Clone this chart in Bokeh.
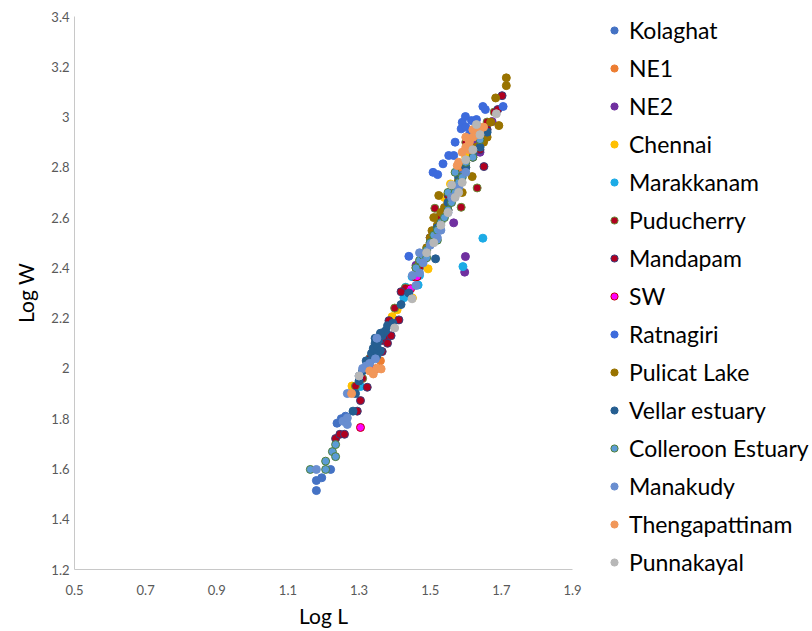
from bokeh.plotting import figure
from bokeh.layouts import row
from bokeh.models import Range1d, FixedTicker, Legend, LegendItem
from bokeh.embed import file_html
from bokeh.resources import INLINE

x_ticks = [0.5, 0.7, 0.9, 1.1, 1.3, 1.5, 1.7, 1.9]
x_tick_labels = ["0.5", "0.7", "0.9", "1.1", "1.3", "1.5", "1.7", "1.9"]
y_ticks = [1.2, 1.4, 1.6, 1.8, 2.0, 2.2, 2.4, 2.6, 2.8, 3.0, 3.2, 3.4]
y_tick_labels = ["1.2", "1.4", "1.6", "1.8", "2", "2.2", "2.4", "2.6", "2.8", "3", "3.2", "3.4"]

kolaghat_L = [1.18, 1.18, 1.195, 1.22, 1.238, 1.25, 1.262, 1.30, 1.36, 1.50, 1.58, 1.62]
kolaghat_W = [1.514, 1.554, 1.565, 1.598, 1.782, 1.80, 1.81, 1.94, 2.12, 2.52, 2.78, 2.88]

ne1_L = [1.283, 1.36, 1.58, 1.62, 1.635, 1.66]
ne1_W = [1.92, 2.03, 2.80, 2.90, 2.94, 2.97]

ne2_L = [1.566, 1.599, 1.597, 1.46, 1.50, 1.55, 1.62, 1.64, 1.674, 1.63]
ne2_W = [2.579, 2.445, 2.383, 2.41, 2.52, 2.63, 2.90, 2.86, 2.982, 2.96]

chennai_L = [1.28, 1.393, 1.407, 1.45, 1.494, 1.54, 1.557, 1.60]
chennai_W = [1.93, 2.206, 2.233, 2.28, 2.396, 2.68, 2.734, 2.84]

marakkanam_L = [1.304, 1.426, 1.431, 1.449, 1.466, 1.47, 1.52, 1.592, 1.648]
marakkanam_W = [1.928, 2.281, 2.323, 2.365, 2.332, 2.37, 2.55, 2.405, 2.518]

puducherry_L = [1.29, 1.31, 1.33, 1.36, 1.40, 1.43, 1.47, 1.513, 1.52, 1.55, 1.56, 1.587, 1.60, 1.63, 1.66, 1.68, 1.632]
puducherry_W = [1.93, 1.96, 2.04, 2.12, 2.24, 2.32, 2.40, 2.637, 2.60, 2.65, 2.70, 2.641, 2.90, 2.97, 2.98, 3.02, 2.718]

mandapam_L = [1.234, 1.246, 1.259, 1.295, 1.304, 1.323, 1.365, 1.365, 1.37, 1.38, 1.384, 1.39, 1.412, 1.418,
              1.55, 1.61, 1.62, 1.64, 1.651, 1.66, 1.69, 1.702]
mandapam_W = [1.721, 1.738, 1.738, 1.83, 1.872, 1.925, 2.111, 2.067, 2.12, 2.10, 2.19, 2.13, 2.193, 2.305,
              2.69, 2.91, 2.84, 2.87, 2.803, 2.95, 3.03, 3.085]

sw_L = [1.304, 1.346, 1.445, 1.459, 1.463, 1.58]
sw_W = [1.765, 1.998, 2.317, 2.363, 2.365, 2.745]

ratnagiri_L = [1.44, 1.508, 1.521, 1.536, 1.552, 1.566, 1.587, 1.59, 1.599, 1.616, 1.63, 1.648, 1.705, 1.60, 1.57, 1.655, 1.61]
ratnagiri_W = [2.446, 2.78, 2.771, 2.814, 2.847, 2.847, 2.953, 2.979, 3.002, 2.986, 2.99, 3.042, 3.042, 2.96, 2.90, 3.03, 2.93]

pulicat_L = [1.46, 1.47, 1.48, 1.49, 1.50, 1.505, 1.51, 1.52, 1.53, 1.524, 1.54, 1.55, 1.56, 1.57, 1.58, 1.59,
             1.60, 1.618, 1.62, 1.63, 1.65, 1.66, 1.67, 1.684, 1.693, 1.714, 1.714]
pulicat_W = [2.40, 2.42, 2.45, 2.48, 2.52, 2.548, 2.60, 2.57, 2.62, 2.688, 2.64, 2.66, 2.70, 2.72, 2.75, 2.70,
             2.80, 2.763, 2.86, 2.88, 2.90, 2.92, 2.98, 3.076, 2.966, 3.125, 3.156]

vellar_L = [1.283, 1.29, 1.30, 1.31, 1.32, 1.332, 1.335, 1.34, 1.345, 1.35, 1.355, 1.36, 1.365, 1.37, 1.375,
            1.38, 1.395, 1.418, 1.44, 1.50, 1.515, 1.52, 1.55, 1.57, 1.58, 1.60, 1.62, 1.63, 1.64, 1.66,
            1.35, 1.345, 1.36]
vellar_W = [1.83, 1.90, 1.95, 1.99, 2.03, 2.031, 2.06, 2.08, 2.10, 2.09, 2.11, 2.07, 2.13, 2.144, 2.15,
            2.17, 2.18, 2.254, 2.30, 2.50, 2.436, 2.56, 2.66, 2.72, 2.76, 2.80, 2.86, 2.93, 2.88, 2.94,
            2.05, 2.12, 2.14]

colleroon_L = [1.163, 1.206, 1.206, 1.225, 1.234, 1.234, 1.46, 1.47, 1.48, 1.49, 1.49, 1.50, 1.51, 1.52,
               1.52, 1.53, 1.54, 1.55, 1.55, 1.56, 1.57, 1.57, 1.58, 1.59, 1.60, 1.62, 1.64]
colleroon_W = [1.598, 1.598, 1.631, 1.669, 1.649, 1.697, 2.40, 2.43, 2.45, 2.47, 2.44, 2.50, 2.53, 2.55,
               2.51, 2.58, 2.60, 2.63, 2.70, 2.66, 2.70, 2.78, 2.74, 2.76, 2.82, 2.84, 2.91]

manakudy_L = [1.18, 1.255, 1.267, 1.267, 1.267, 1.30, 1.31, 1.32, 1.33, 1.346, 1.35, 1.45, 1.46, 1.47,
              1.48, 1.50, 1.52, 1.53, 1.55, 1.56, 1.58, 1.60, 1.47]
manakudy_W = [1.598, 1.79, 1.777, 1.803, 1.90, 1.97, 2.00, 2.01, 2.02, 2.038, 2.12, 2.37, 2.33, 2.38,
              2.42, 2.49, 2.52, 2.55, 2.62, 2.68, 2.72, 2.78, 2.46]

thenga_L = [1.279, 1.33, 1.34, 1.35, 1.362, 1.576, 1.58, 1.59, 1.60, 1.60, 1.61, 1.62, 1.62, 1.63, 1.64, 1.65, 1.61]
thenga_W = [1.90, 1.99, 1.978, 2.00, 1.998, 2.807, 2.82, 2.86, 2.88, 2.92, 2.90, 2.92, 2.95, 2.93, 2.95, 2.96, 2.87]

punna_L = [1.30, 1.40, 1.449, 1.49, 1.51, 1.53, 1.55, 1.56, 1.57, 1.58, 1.59, 1.60, 1.62, 1.63, 1.64, 1.686]
punna_W = [1.97, 2.161, 2.277, 2.46, 2.50, 2.57, 2.62, 2.73, 2.68, 2.70, 2.74, 2.83, 2.87, 2.97, 2.93, 3.013]

series = [
    ("Kolaghat", kolaghat_L, kolaghat_W, "#4472C4", "#4472C4"),
    ("NE1", ne1_L, ne1_W, "#ED7D31", "#ED7D31"),
    ("NE2", ne2_L, ne2_W, "#7030A0", "#7030A0"),
    ("Chennai", chennai_L, chennai_W, "#FFC000", "#FFC000"),
    ("Marakkanam", marakkanam_L, marakkanam_W, "#1CABE6", "#1CABE6"),
    ("Puducherry", puducherry_L, puducherry_W, "#B00020", "#6A8E3A"),
    ("Mandapam", mandapam_L, mandapam_W, "#B00020", "#3A3D7A"),
    ("SW", sw_L, sw_W, "#FF00FF", "#C00000"),
    ("Ratnagiri", ratnagiri_L, ratnagiri_W, "#3D6BDC", "#3D6BDC"),
    ("Pulicat Lake", pulicat_L, pulicat_W, "#997300", "#997300"),
    ("Vellar estuary", vellar_L, vellar_W, "#255E91", "#255E91"),
    ("Colleroon Estuary", colleroon_L, colleroon_W, "#5B9BD5", "#4E7F3A"),
    ("Manakudy", manakudy_L, manakudy_W, "#698ED0", "#698ED0"),
    ("Thengapattinam", thenga_L, thenga_W, "#F1975A", "#F1975A"),
    ("Punnakayal", punna_L, punna_W, "#B7B7B7", "#B7B7B7"),
]

# main scatter plot
p = figure(width=582, height=631, output_backend="svg", toolbar_location=None,
           x_range=Range1d(0.5, 1.9), y_range=Range1d(1.2, 3.4),
           min_border_left=74, min_border_right=10, min_border_top=16, min_border_bottom=62)
p.grid.visible = False
p.outline_line_color = None
p.background_fill_color = "white"
p.border_fill_color = "white"

for ax, ticks, labels in ((p.xaxis, x_ticks, x_tick_labels), (p.yaxis, y_ticks, y_tick_labels)):
    ax.ticker = FixedTicker(ticks=ticks)
    ax.major_label_overrides = dict(zip(ticks, labels))
    ax.major_tick_out = 0
    ax.major_tick_in = 0
    ax.minor_tick_out = 0
    ax.minor_tick_in = 0
    ax.axis_line_color = "#C8C8C8"
    ax.axis_line_width = 1
    ax.major_label_text_font = "Lato"
    ax.major_label_text_font_size = "13px"
    ax.major_label_text_color = "#595959"
    ax.axis_label_text_font = "Lato"
    ax.axis_label_text_font_size = "21px"
    ax.axis_label_text_font_style = "normal"
    ax.axis_label_text_color = "#000000"

p.xaxis.axis_label = "Log L"
p.yaxis.axis_label = "Log W"
p.xaxis.major_label_standoff = 15
p.xaxis.axis_label_standoff = 5
p.yaxis.major_label_standoff = 5
p.yaxis.axis_label_standoff = 10

for name, xs, ys, fill, line in series:
    p.scatter(xs, ys, size=8, marker="circle", fill_color=fill, line_color=line, line_width=1)

# legend panel: a second figure whose ranges exclude the data, so only its legend shows
pl = figure(width=230, height=631, output_backend="svg", toolbar_location=None,
            x_range=Range1d(0, 1), y_range=Range1d(0, 1),
            x_axis_location=None, y_axis_location=None,
            min_border_left=0, min_border_right=0, min_border_top=0, min_border_bottom=0)
pl.frame_align = False
pl.grid.visible = False
pl.outline_line_color = None
pl.background_fill_color = "white"
pl.border_fill_color = "white"

items = []
for name, xs, ys, fill, line in series:
    r = pl.scatter(xs, ys, size=8, marker="circle", fill_color=fill, line_color=line, line_width=1)
    items.append(LegendItem(label=name, renderers=[r]))

legend = Legend(items=items, location=(23, 55), orientation="vertical",
                label_text_font="Lato", label_text_font_size="23px", label_text_color="#000000",
                glyph_width=18, glyph_height=18, label_height=27, label_standoff=6,
                spacing=10, padding=4, margin=0,
                border_line_color=None, background_fill_alpha=0)
pl.add_layout(legend, "center")

layout = row(p, pl, spacing=0)
open("out.html", "w").write(file_html(layout, INLINE))
